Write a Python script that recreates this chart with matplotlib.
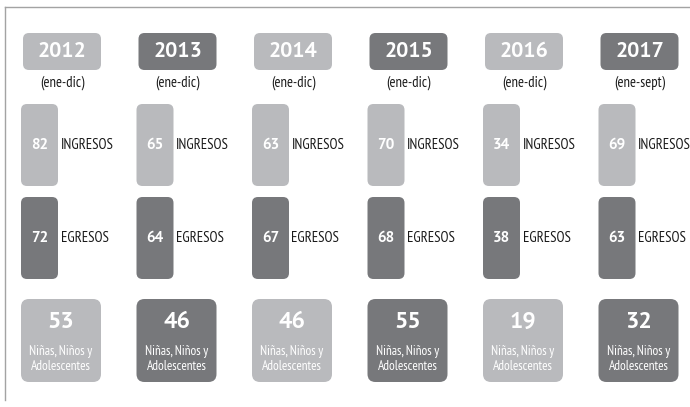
"""
Infographic: ingresos / egresos / NNA per year, 2012-2017.
Drawn in pixel coordinates (1 data unit = 1 px) on a blank axes.
"""

import matplotlib.pyplot as plt
from matplotlib.patches import FancyBboxPatch
from matplotlib.lines import Line2D

years = ["2012", "2013", "2014", "2015", "2016", "2017"]
periods = ["(ene-dic)", "(ene-dic)", "(ene-dic)", "(ene-dic)", "(ene-dic)", "(ene-sept)"]
ingresos = [82, 65, 63, 70, 34, 69]
egresos = [72, 64, 67, 68, 38, 63]
nna = [53, 46, 46, 55, 19, 32]

LIGHT = "#b9babd"
DARK = "#77787b"
INK = "#1a1a1a"
BOLD = ["PT Sans", "Lato", "DejaVu Sans"]
NARROW = ["PT Sans Narrow", "DejaVu Sans"]


def _rbox(ax, x, y, w, h, color, r=6):
    ax.add_patch(FancyBboxPatch(
        (x + r, y + r), w - 2 * r, h - 2 * r,
        boxstyle=f"round,pad={r}",
        linewidth=0, facecolor=color,
    ))


fig = plt.figure(figsize=(6.9, 4.07), dpi=100)
ax = fig.add_axes([0, 0, 1, 1])
ax.set_xlim(0, 690)
ax.set_ylim(407, 0)
ax.set_axis_off()

# frame (top + left)
ax.add_line(Line2D([5, 690], [7, 7], color="#a3a3a3", lw=1.0))
ax.add_line(Line2D([5, 5], [7, 400], color="#a3a3a3", lw=1.0))

step = 115.5
for i, year in enumerate(years):
    x0 = 21 + i * step
    alt = LIGHT if i % 2 == 0 else DARK

    # year header
    _rbox(ax, x0 + 2, 33, 78, 37, alt, r=6)
    ax.text(x0 + 41, 51.5, year, ha="center", va="center", color="white",
            fontsize=15.5, fontweight="bold", family=BOLD)
    ax.text(x0 + 41, 83, periods[i], ha="center", va="center", color=INK,
            fontsize=10.5, family=NARROW)

    # ingresos bar
    _rbox(ax, x0, 104, 37, 82, LIGHT, r=6)
    ax.text(x0 + 18.5, 145, str(ingresos[i]), ha="center", va="center",
            color="white", fontsize=11, fontweight="bold", family=BOLD)
    ax.text(x0 + 39.5, 145, "INGRESOS", ha="left", va="center", color=INK,
            fontsize=10.6, family=NARROW)

    # egresos bar
    _rbox(ax, x0, 197, 37, 82, DARK, r=6)
    ax.text(x0 + 18.5, 238, str(egresos[i]), ha="center", va="center",
            color="white", fontsize=11, fontweight="bold", family=BOLD)
    ax.text(x0 + 39.5, 238, "EGRESOS", ha="left", va="center", color=INK,
            fontsize=10.6, family=NARROW)

    # niñas, niños y adolescentes
    _rbox(ax, x0, 299, 80, 83, alt, r=8)
    ax.text(x0 + 40, 322, str(nna[i]), ha="center", va="center", color="white",
            fontsize=17, fontweight="bold", family=BOLD)
    ax.text(x0 + 40, 351, "Niñas, Niños y", ha="center", va="center",
            color="white", fontsize=9.5, family=NARROW)
    ax.text(x0 + 40, 367, "Adolescentes", ha="center", va="center",
            color="white", fontsize=9.5, family=NARROW)

fig.savefig("out.png", dpi=100, facecolor="white")
